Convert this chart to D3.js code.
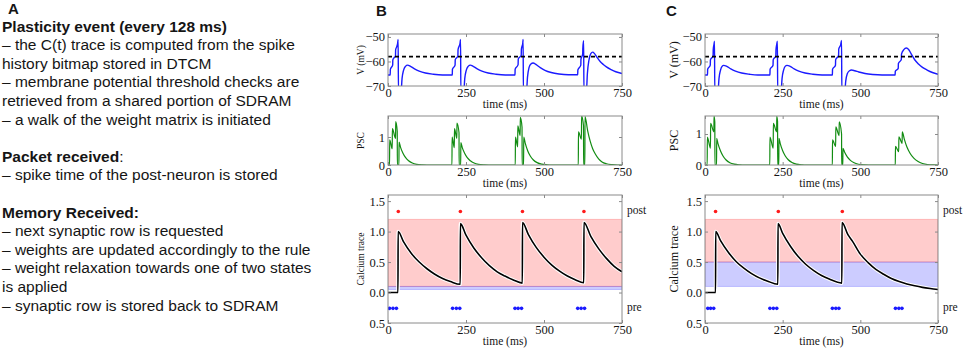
<!DOCTYPE html>
<html lang="en">

<head>
	<title>Plasticity event, packet and memory handling</title>
	<meta charset="utf-8">
	<script src="https://d3js.org/d3.v7.min.js"></script>
	<style>
		body { margin: 0; background: #fff; }
		.notes text { font-family: "Liberation Sans", Arial, sans-serif; font-size: 15.5px; fill: #151515; }
		.letter { font-family: "Liberation Sans", Arial, sans-serif; font-size: 15px; font-weight: bold; fill: #151515; }
		.axis text { font-family: "Liberation Serif", "Times New Roman", serif; font-size: 12.5px; fill: #151515; }
		.axis line { stroke: #8a8a8a; }
		.label { font-family: "Liberation Serif", "Times New Roman", serif; fill: #151515; }
	</style>
</head>

<body>
	<div id="container1"></div>
	<script>
		// Text of panel A
		const sectionTitles = ["Plasticity event (every 128 ms)", "Packet received", "Memory Received:"];
		const sectionTitleTails = ["", ":", ""];
		const plasticityLines = [
			"– the C(t) trace is computed from the spike",
			"history bitmap stored in DTCM",
			"– membrane potential threshold checks are",
			"retrieved from a shared portion of SDRAM",
			"– a walk of the weight matrix is initiated"
		];
		const packetLines = ["– spike time of the post-neuron is stored"];
		const memoryLines = [
			"– next synaptic row is requested",
			"– weights are updated accordingly to the rule",
			"– weight relaxation towards one of two states",
			"is applied",
			"– synaptic row is stored back to SDRAM"
		];

		// Ticks
		const timeTicks = [0, 250, 500, 750];
		const voltageTicks = [-70, -60, -50];
		const pscTicks = [0, 1];
		const calciumTicks = [-0.5, 0, 0.5, 1, 1.5];
		const calciumTickLabels = ["0.5", "0.0", "0.5", "1.0", "1.5"];
		const thresholdV = -58;
		const postLevel = 1.33;
		const preLevel = -0.26;

		// Membrane potential, [time ms, mV]
		const voltageB = [
			[0, -65.5], [7, -65.5], [7.5, -63.2], [12, -62.2], [15, -61.5], [15.5, -59.3], [20, -58.4], [24, -57.8], [24.5, -55.2], [28, -54], [31, -52.5], [32.5, -51], [33.5, -72], [42, -72], [45, -67], [50, -63.5], [56, -62], [63, -61.5], [72, -62], [85, -63], [100, -63.9], [120, -64.7], [145, -65.2], [175, -65.5],
			[206, -65.5], [206.5, -63.2], [215, -61.5], [215.5, -59.3], [224, -57.8], [224.5, -55.2], [231, -52.5], [232.5, -51], [233.5, -72], [243, -72], [246, -67], [251, -63.5], [257, -62], [264, -61.5], [273, -62], [286, -63], [301, -63.9], [321, -64.7], [346, -65.2], [376, -65.5],
			[407, -65.5], [407.5, -63.2], [417, -61.3], [417.5, -59], [427, -57.5], [427.5, -55], [432, -52.5], [433, -51], [434, -72], [444, -72], [447, -66.5], [452, -62.5], [458, -61], [465, -60.6], [475, -61.3], [488, -62.5], [503, -63.6], [523, -64.5], [548, -65.1], [578, -65.4],
			[608, -65.4], [608.5, -63.5], [618, -61.5], [618.5, -59], [624, -57], [624.5, -54.5], [627, -51.5], [628, -72], [636, -72], [639, -65], [644, -59.5], [650, -56.8], [656, -56.2], [662, -56.8], [670, -58.3], [680, -60], [690, -61.2], [700, -62.2], [715, -63.3], [730, -64.2], [750, -64.9]
		];
		const voltageC = [
			[0, -65.5], [8, -65.5], [8.5, -63.2], [17, -61.5], [17.5, -59.3], [26, -57.8], [26.5, -55.2], [29, -53], [30.5, -51.7], [31.5, -72], [42, -72], [45, -67], [50, -63.5], [55, -62], [60, -61.6], [70, -62], [83, -63], [98, -63.9], [118, -64.7], [143, -65.2], [170, -65.5],
			[209, -65.5], [209.5, -63.2], [219, -61.5], [219.5, -59.3], [228, -57.8], [228.5, -55.2], [231, -53], [233, -51.7], [234, -72], [245, -72], [248, -67], [253, -63.5], [258, -62], [264, -61.6], [274, -62], [287, -63], [302, -63.9], [322, -64.7], [347, -65.2], [377, -65.5],
			[410, -65.5], [410.5, -63.2], [420, -61.5], [420.5, -59.3], [430, -57.6], [430.5, -55], [437, -53], [439.5, -51.4], [440.5, -72], [450, -72], [453, -68], [458, -65], [465, -63.8], [472, -63.5], [482, -63.8], [495, -64.3], [515, -64.9], [540, -65.3], [570, -65.5],
			[612, -65.5], [612.5, -64], [622, -62.8], [622.5, -60.8], [632, -59.2], [632.5, -57], [640, -55.2], [648, -54.5], [656, -55.2], [665, -57.2], [675, -59.3], [687, -61], [700, -62.4], [715, -63.5], [732, -64.5], [750, -65.2]
		];

		// Post-synaptic current, [time ms, value]
		const pscB = [
			[0, 0], [5, 0], [5.4, 0.9], [13.6, 0.58], [14, 1.3], [24.3, 0.95], [24.7, 1.55], [29.6, 1.2], [30, 0], [35, 0], [35.4, 0.82], [40, 0.64], [48, 0.42], [56, 0.27], [66, 0.15], [78, 0.07], [92, 0.025], [110, 0.005], [125, 0],
			[205, 0], [205.4, 1.0], [212.6, 0.62], [213, 1.3], [220.6, 0.95], [221, 1.5], [227.6, 1.15], [228, 0], [233, 0], [233.4, 0.8], [238, 0.62], [246, 0.41], [254, 0.26], [264, 0.15], [276, 0.07], [290, 0.025], [308, 0.005], [323, 0],
			[408, 0], [408.4, 1.0], [415.6, 0.65], [416, 1.4], [423.6, 1.05], [424, 1.7], [429.6, 1.35], [430, 0], [434.6, 0], [435, 1.0], [440, 0.77], [448, 0.5], [456, 0.32], [466, 0.18], [478, 0.085], [492, 0.03], [510, 0.008], [525, 0],
			[610, 0], [610.4, 1.18], [620, 0.92], [620.4, 1.75], [626.6, 1.4], [627, 0], [631, 0], [631.4, 1.73], [640, 1.22], [648, 0.85], [656, 0.58], [664, 0.4], [675, 0.22], [686, 0.11], [700, 0.045], [718, 0.012], [735, 0], [750, 0]
		];
		const pscC = [
			[0, 0], [7.1, 0], [7.5, 0.9], [17.6, 0.54], [18, 1.34], [28.6, 1.07], [29, 1.57], [31.6, 1.38], [32, 0], [37.2, 0], [37.6, 0.86], [42, 0.68], [50, 0.45], [58, 0.29], [68, 0.16], [80, 0.075], [94, 0.027], [112, 0.006], [127, 0],
			[208.6, 0], [209, 0.9], [219.6, 0.54], [220, 1.34], [230.6, 1.07], [231, 1.57], [233.6, 1.4], [234, 0], [237.6, 0], [238, 0.86], [242, 0.7], [250, 0.46], [258, 0.3], [268, 0.17], [280, 0.08], [294, 0.028], [312, 0.006], [327, 0],
			[410, 0], [410.4, 0.81], [420.6, 0.6], [421, 1.23], [431.6, 0.95], [432, 1.39], [439.6, 1.0], [440, 0], [443.6, 0], [444, 0.54], [450, 0.4], [458, 0.26], [468, 0.15], [480, 0.07], [494, 0.025], [512, 0.005], [527, 0],
			[612.6, 0], [613, 0.6], [623.6, 0.43], [624, 0.91], [634.6, 0.7], [635, 1.07], [642, 0.82], [650, 0.58], [660, 0.38], [672, 0.22], [686, 0.11], [700, 0.05], [716, 0.015], [735, 0.002], [750, 0]
		];

		// Calcium trace, [time ms, value]
		const calciumB = [
			[0, 0], [32, 0], [32.4, 1.0], [50, 0.83], [75, 0.64], [100, 0.5], [125, 0.39], [150, 0.3], [175, 0.23], [200, 0.18], [231.6, 0.135],
			[232, 1.13], [250, 0.94], [275, 0.73], [300, 0.57], [325, 0.44], [350, 0.34], [375, 0.27], [400, 0.21], [430.6, 0.155],
			[431, 1.15], [450, 0.95], [475, 0.74], [500, 0.58], [525, 0.45], [550, 0.35], [575, 0.27], [600, 0.21], [627.6, 0.16],
			[628, 1.15], [650, 0.92], [675, 0.72], [700, 0.56], [725, 0.43], [750, 0.34]
		];
		const calciumC = [
			[0, 0], [34, 0], [34.4, 1.0], [50, 0.85], [75, 0.66], [100, 0.51], [125, 0.4], [150, 0.31], [175, 0.24], [200, 0.19], [234.6, 0.135],
			[235, 1.13], [250, 0.97], [275, 0.76], [300, 0.59], [325, 0.46], [350, 0.36], [375, 0.28], [400, 0.22], [440.6, 0.155],
			[441, 1.15], [460, 0.95], [475, 0.84], [500, 0.63], [525, 0.49], [550, 0.38], [575, 0.3], [600, 0.23], [625, 0.18], [650, 0.14], [675, 0.11], [700, 0.085], [725, 0.066], [750, 0.05]
		];

		// Spike times (ms)
		const postSpikesB = [33, 232, 431, 628];
		const postSpikesC = [34, 236, 442];
		const preSpikesB = [5, 16, 27, 207, 219, 230, 407, 417, 428, 608, 619, 630];
		const preSpikesC = [9, 18, 28, 209, 220, 231, 410, 421, 431, 613, 624, 634];

		// Potentiation (red) and depression (blue) regions [low, high]
		const potRegionB = [0.1, 1.2];
		const depRegionB = [0.05, 0.1];
		const potRegionC = [0.5, 1.2];
		const depRegionC = [0.1, 0.5];

		// Chart layout
		const width = 964;
		const height = 352;
		const rows = { v: [86, 34], psc: [165, 116], ca: [323, 195] };

		const svg = d3.select("#container1")
			.append("svg")
			.attr("width", width)
			.attr("height", height)
			.attr("viewBox", `0 0 ${width} ${height}`);

		// Panel A text
		const notes = svg.append("g").attr("class", "notes");
		const lineGap = 18.6;
		let baseline = 31.5;
		[plasticityLines, packetLines, memoryLines].forEach((lines, i) => {
			const title = notes.append("text").attr("x", 2).attr("y", baseline);
			title.append("tspan").attr("font-weight", "bold").text(sectionTitles[i]);
			if (sectionTitleTails[i]) title.append("tspan").text(sectionTitleTails[i]);
			baseline += lineGap;
			lines.forEach(l => {
				notes.append("text").attr("x", 2).attr("y", baseline).text(l);
				baseline += lineGap;
			});
			baseline += lineGap;
		});

		svg.append("text").attr("class", "letter").attr("x", 8).attr("y", 14).text("A");

		// One axes box with inward ticks on all four sides
		function frame(name, x, y, yTicks, yFormat) {
			const [left, right] = x.range();
			const [bottom, top] = y.range();
			const g = svg.append("g").attr("class", "panel-" + name);

			g.append("clipPath").attr("id", "clip-" + name)
				.append("rect")
				.attr("x", left).attr("y", top)
				.attr("width", right - left).attr("height", bottom - top);

			const plot = g.append("g").attr("clip-path", `url(#clip-${name})`);

			g.append("g").attr("class", "axis")
				.attr("transform", `translate(0,${bottom})`)
				.call(d3.axisBottom(x).tickValues(timeTicks).tickSize(-3).tickPadding(2))
				.call(a => a.select(".domain").remove());
			g.append("g").attr("class", "axis")
				.attr("transform", `translate(0,${top})`)
				.call(d3.axisTop(x).tickValues(timeTicks).tickSize(-3).tickFormat(""))
				.call(a => a.select(".domain").remove());
			g.append("g").attr("class", "axis")
				.attr("transform", `translate(${left},0)`)
				.call(d3.axisLeft(y).tickValues(yTicks).tickSize(-3).tickPadding(3).tickFormat(yFormat))
				.call(a => a.select(".domain").remove());
			g.append("g").attr("class", "axis")
				.attr("transform", `translate(${right},0)`)
				.call(d3.axisRight(y).tickValues(yTicks).tickSize(-3).tickFormat(""))
				.call(a => a.select(".domain").remove());

			g.append("rect")
				.attr("x", left).attr("y", top)
				.attr("width", right - left).attr("height", bottom - top)
				.attr("fill", "none")
				.attr("stroke", "#8a8a8a");

			g.append("text").attr("class", "label")
				.attr("x", (left + right) / 2).attr("y", bottom + 22)
				.attr("text-anchor", "middle")
				.attr("font-size", "11.5px")
				.text("time (ms)");

			return plot;
		}

		function yLabel(text, x, y, size) {
			svg.append("text").attr("class", "label")
				.attr("transform", `translate(${x},${(y.range()[0] + y.range()[1]) / 2}) rotate(-90)`)
				.attr("text-anchor", "middle")
				.attr("dominant-baseline", "middle")
				.attr("font-size", size)
				.text(text);
		}

		const segment = d3.line()
			.x(d => d[0])
			.y(d => d[1])
			.curve(d3.curveMonotoneX);

		const columns = [
			{ name: "B", range: [388, 622], voltage: voltageB, psc: pscB, pscTop: 1.75, calcium: calciumB,
			  pot: potRegionB, dep: depRegionB, post: postSpikesB, pre: preSpikesB,
			  letterX: 376, labelX: 362, labelSize: "9.5px", sideX: 627 },
			{ name: "C", range: [705, 938], voltage: voltageC, psc: pscC, pscTop: 1.58, calcium: calciumC,
			  pot: potRegionC, dep: depRegionC, post: postSpikesC, pre: preSpikesC,
			  letterX: 666, labelX: 675, labelSize: "12px", sideX: 943 }
		];

		columns.forEach(col => {
			const x = d3.scaleLinear().domain([0, 750]).range(col.range);
			const yV = d3.scaleLinear().domain([-70, -48.8]).range(rows.v);
			const yPsc = d3.scaleLinear().domain([0, col.pscTop]).range(rows.psc);
			const yCa = d3.scaleLinear().domain([-0.5, 1.6]).range(rows.ca);

			svg.append("text").attr("class", "letter").attr("x", col.letterX).attr("y", 16).text(col.name);

			// Membrane potential
			const pv = frame(col.name + "-v", x, yV, voltageTicks, d => "−" + Math.abs(d));
			pv.append("path")
				.attr("d", segment(col.voltage.map(d => [x(d[0]), yV(d[1])])))
				.attr("fill", "none")
				.attr("stroke", "#1a1aff")
				.attr("stroke-width", 1.4);
			pv.append("line")
				.attr("x1", x(0)).attr("x2", x(750))
				.attr("y1", yV(thresholdV)).attr("y2", yV(thresholdV))
				.attr("stroke", "#000")
				.attr("stroke-width", 1.8)
				.attr("stroke-dasharray", "4,3");
			yLabel("V (mV)", col.labelX, yV, col.labelSize);

			// Post-synaptic current
			const pp = frame(col.name + "-psc", x, yPsc, pscTicks, d3.format("d"));
			pp.append("path")
				.attr("d", segment(col.psc.map(d => [x(d[0]), yPsc(d[1])])))
				.attr("fill", "none")
				.attr("stroke", "#128c12")
				.attr("stroke-width", 1.2);
			yLabel("PSC", col.labelX, yPsc, col.labelSize);

			// Calcium trace with potentiation / depression regions
			const pc = frame(col.name + "-ca", x, yCa, calciumTicks, (d, i) => calciumTickLabels[i]);
			[[col.pot, "255,0,0"], [col.dep, "0,0,255"]].forEach(([r, rgb]) => {
				pc.append("rect")
					.attr("x", x(0)).attr("width", x(750) - x(0))
					.attr("y", yCa(r[1])).attr("height", yCa(r[0]) - yCa(r[1]))
					.attr("fill", `rgba(${rgb},0.2)`)
					.attr("stroke", `rgba(${rgb},0.2)`);
			});
			const caPath = segment(col.calcium.map(d => [x(d[0]), yCa(d[1])]));
			pc.append("path").attr("d", caPath)
				.attr("fill", "none").attr("stroke", "#fff").attr("stroke-width", 3.6);
			pc.append("path").attr("d", caPath)
				.attr("fill", "none").attr("stroke", "#000").attr("stroke-width", 1.6);
			pc.selectAll("circle.post")
				.data(col.post)
				.join("circle")
				.attr("class", "post")
				.attr("cx", d => x(d)).attr("cy", yCa(postLevel))
				.attr("r", 1.8)
				.attr("fill", "#ff1a1a");
			pc.selectAll("circle.pre")
				.data(col.pre)
				.join("circle")
				.attr("class", "pre")
				.attr("cx", d => x(d)).attr("cy", yCa(preLevel))
				.attr("r", 1.8)
				.attr("fill", "#1a1aff");
			yLabel("Calcium trace", col.labelX, yCa, col.labelSize);

			svg.append("text").attr("class", "label")
				.attr("x", col.sideX).attr("y", yCa(postLevel))
				.attr("dominant-baseline", "middle")
				.attr("font-size", "11.5px")
				.text("post");
			svg.append("text").attr("class", "label")
				.attr("x", col.sideX).attr("y", yCa(preLevel))
				.attr("dominant-baseline", "middle")
				.attr("font-size", "11.5px")
				.text("pre");
		});
	</script>
</body>

</html>
